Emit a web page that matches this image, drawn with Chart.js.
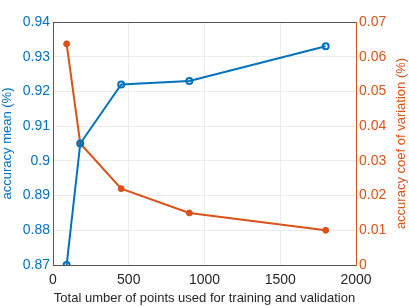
<!DOCTYPE html>
<html>
<head>
<meta charset="utf-8">
<script src="https://cdn.jsdelivr.net/npm/chart.js@4"></script>
<style>
  html, body { margin: 0; padding: 0; background: #fff; }
  #wrap { width: 409px; height: 306px; }
</style>
</head>
<body>
<div id="wrap"><canvas id="myChart" width="409" height="306"></canvas></div>
<script>
// values
const pointsUsed = [90, 180, 450, 900, 1800];
const accuracyMean = [0.870, 0.905, 0.922, 0.923, 0.933];
const accuracyCoefVar = [0.0637, 0.035, 0.022, 0.015, 0.010];
const xTicks = [0, 500, 1000, 1500, 2000];
const leftTicks = [0.87, 0.88, 0.89, 0.9, 0.91, 0.92, 0.93, 0.94];
const rightTicks = [0, 0.01, 0.02, 0.03, 0.04, 0.05, 0.06, 0.07];
const rightTitle = 'accuracy coef of variation (%)';

const blue = '#0072BD';
const orange = '#D95319';
const fontFamily = 'Liberation Sans, Arial, sans-serif';

// top frame line + right title read bottom-to-top (matlab style)
const extras = {
  id: 'extras',
  afterDraw(chart) {
    const { ctx, chartArea } = chart;
    ctx.save();
    ctx.strokeStyle = '#555';
    ctx.lineWidth = 1;
    ctx.beginPath();
    ctx.moveTo(chartArea.left, chartArea.top + 0.5);
    ctx.lineTo(chartArea.right, chartArea.top + 0.5);
    ctx.stroke();

    ctx.translate(401, (chartArea.top + chartArea.bottom) / 2);
    ctx.rotate(-Math.PI / 2);
    ctx.fillStyle = orange;
    ctx.font = '13px ' + fontFamily;
    ctx.textAlign = 'center';
    ctx.textBaseline = 'middle';
    ctx.fillText(rightTitle, 0, 0);
    ctx.restore();
  }
};

const ctx = document.getElementById('myChart');
new Chart(ctx, {
  type: 'line',
  data: {
    datasets: [{
      label: 'accuracy mean',
      data: pointsUsed.map((x, i) => ({ x, y: accuracyMean[i] })),
      yAxisID: 'y',
      borderColor: blue,
      backgroundColor: '#fff',
      borderWidth: 2,
      pointRadius: 3,
      pointBorderWidth: 2,
      pointBorderColor: blue,
      pointBackgroundColor: 'rgba(255,255,255,0)',
      order: 1
    }, {
      label: 'accuracy coef of variation',
      data: pointsUsed.map((x, i) => ({ x, y: accuracyCoefVar[i] })),
      yAxisID: 'y1',
      borderColor: orange,
      backgroundColor: orange,
      borderWidth: 2,
      pointRadius: 3,
      pointBorderWidth: 1,
      pointBackgroundColor: orange,
      order: 2
    }]
  },
  options: {
    responsive: false,
    animation: false,
    layout: { padding: { top: 22, left: 0, right: 0, bottom: 0 } },
    plugins: { legend: { display: false }, tooltip: { enabled: false } },
    scales: {
      x: {
        type: 'linear',
        min: 0, max: 2000,
        afterBuildTicks: s => { s.ticks = xTicks.map(v => ({ value: v })); },
        ticks: { color: '#262626', font: { family: fontFamily, size: 14 }, padding: 7, callback: v => String(v) },
        grid: { color: '#ececec', tickLength: 0 },
        border: { color: '#555' },
        title: { display: true, text: 'Total umber of points used for training and validation', color: '#262626', font: { family: fontFamily, size: 13 }, padding: { top: 0, bottom: 0 } },
        afterFit: s => { s.height = 41; }
      },
      y: {
        position: 'left',
        min: 0.87, max: 0.94,
        afterBuildTicks: s => { s.ticks = leftTicks.map(v => ({ value: v })); },
        ticks: { color: blue, font: { family: fontFamily, size: 14 }, padding: 3, callback: v => String(+v.toFixed(2)) },
        grid: { color: '#ececec', tickLength: 0 },
        border: { color: blue },
        title: { display: true, text: 'accuracy mean (%)', color: blue, font: { family: fontFamily, size: 13 }, padding: { top: 0, bottom: 0 } },
        afterFit: s => { s.width = 53; }
      },
      y1: {
        position: 'right',
        min: 0, max: 0.07,
        afterBuildTicks: s => { s.ticks = rightTicks.map(v => ({ value: v })); },
        ticks: { color: orange, font: { family: fontFamily, size: 14 }, padding: 3, callback: v => String(+v.toFixed(2)) },
        grid: { display: false, tickLength: 0 },
        border: { color: orange },
        title: { display: false },
        afterFit: s => { s.width = 53; }
      }
    }
  },
  plugins: [extras]
});
</script>
</body>
</html>
